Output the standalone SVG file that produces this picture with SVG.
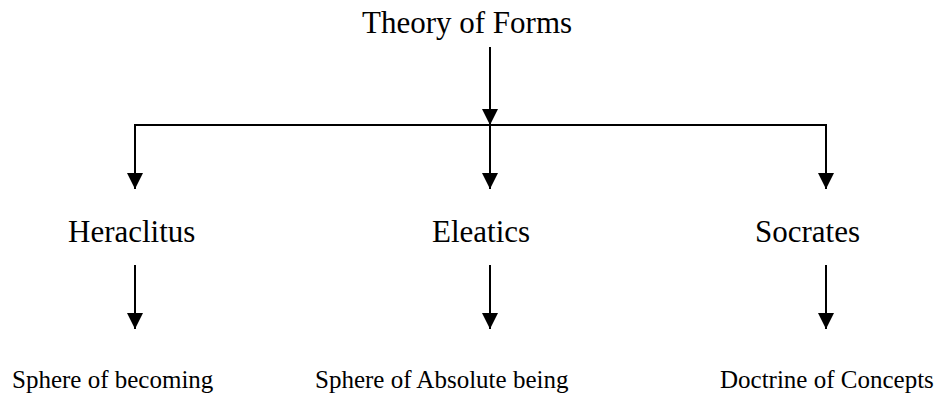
<svg xmlns="http://www.w3.org/2000/svg" width="951" height="396" viewBox="0 0 951 396">
<style>
.big{font-size:31px}
.small{font-size:25px}
.ln{stroke:#000;stroke-width:2;fill:none}
</style>
<defs>
<marker id="a" markerUnits="userSpaceOnUse" markerWidth="16" markerHeight="16" viewBox="0 0 16 16" refX="16" refY="8" orient="auto">
<path d="M0,0 L16,8 L0,16 Z" fill="#000"/>
</marker>
</defs>
<rect width="951" height="396" fill="#fff"/>
<g id="connectors">
<line class="ln" x1="490" y1="47" x2="490" y2="125" marker-end="url(#a)"/>
<line class="ln" x1="134" y1="125" x2="827" y2="125"/>
<line class="ln" x1="135" y1="125" x2="135" y2="189" marker-end="url(#a)"/>
<line class="ln" x1="490" y1="125" x2="490" y2="189" marker-end="url(#a)"/>
<line class="ln" x1="826" y1="125" x2="826" y2="189" marker-end="url(#a)"/>
<line class="ln" x1="135" y1="265" x2="135" y2="329" marker-end="url(#a)"/>
<line class="ln" x1="490" y1="265" x2="490" y2="329" marker-end="url(#a)"/>
<line class="ln" x1="826" y1="265" x2="826" y2="329" marker-end="url(#a)"/>
</g>
<g font-family="'Liberation Serif', 'DejaVu Serif', serif" fill="#000">
<g id="theory"><text class="big" x="362" y="33">Theory of Forms</text></g>
<g id="heraclitus"><text class="big" x="68" y="242">Heraclitus</text></g>
<g id="eleatics"><text class="big" x="432" y="242">Eleatics</text></g>
<g id="socrates"><text class="big" x="755" y="242">Socrates</text></g>
<g id="becoming"><text class="small" x="12" y="388">Sphere of becoming</text></g>
<g id="absolute"><text class="small" x="315" y="388">Sphere of Absolute being</text></g>
<g id="concepts"><text class="small" x="720" y="388">Doctrine of Concepts</text></g>
</g>
</svg>
